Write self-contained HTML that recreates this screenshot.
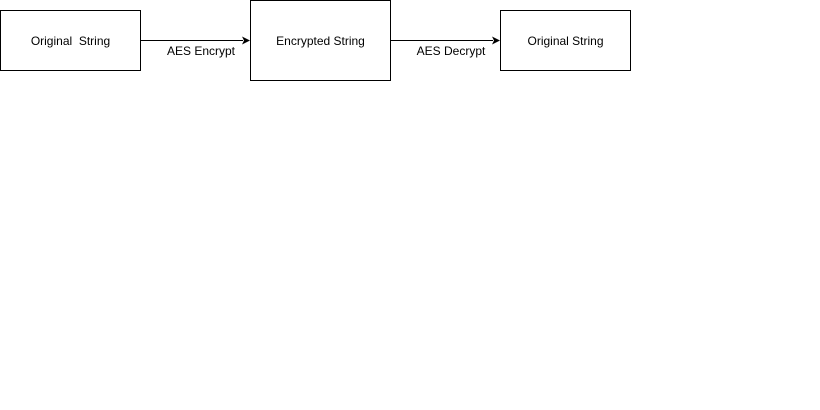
<!DOCTYPE html>
<html><head><style>html,body{margin:0;padding:0;background:#fff;width:820px;height:410px;overflow:hidden}</style></head>
<body>
<svg width="820" height="410" xmlns="http://www.w3.org/2000/svg" style="display:block">
<g fill="#fff" stroke="#000" stroke-width="1">
<rect x="0.5" y="10.5" width="140" height="60"/>
<rect x="250.5" y="0.5" width="140" height="80"/>
<rect x="500.5" y="10.5" width="130" height="60"/>
</g>
<g stroke="#000" stroke-width="1">
<line x1="140.5" y1="40.5" x2="243" y2="40.5"/>
<line x1="390.5" y1="40.5" x2="493" y2="40.5"/>
</g>
<polygon points="250,40.5 242,36.5 244,40.5 242,44.5" fill="#000"/>
<polygon points="500,40.5 492,36.5 494,40.5 492,44.5" fill="#000"/>
<g font-family="Liberation Sans, sans-serif" font-size="12" fill="#000" text-anchor="middle">
<text x="70.5" y="45" xml:space="preserve">Original  String</text>
<text x="320.5" y="45">Encrypted String</text>
<text x="565.5" y="45">Original String</text>
<text x="201" y="55">AES Encrypt</text>
<text x="451" y="55">AES Decrypt</text>
</g>
</svg>
</body></html>
